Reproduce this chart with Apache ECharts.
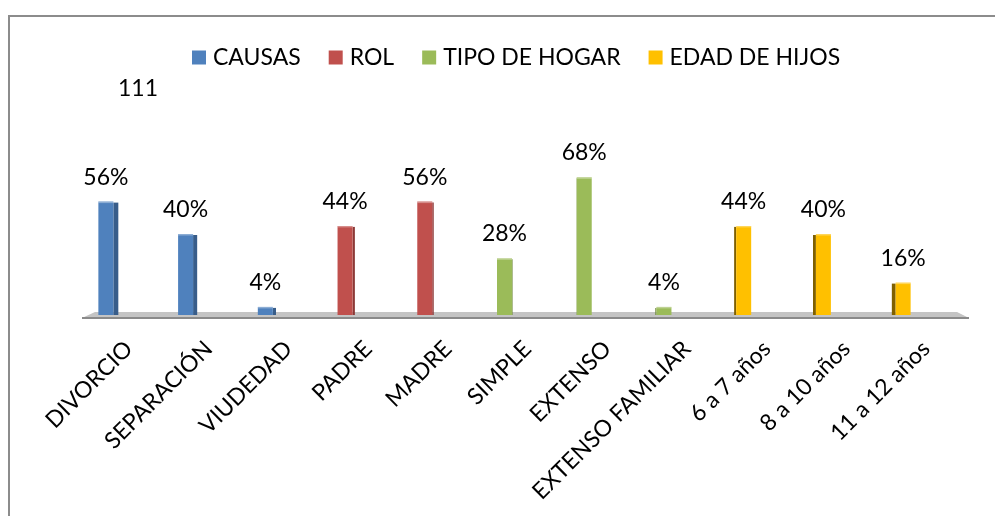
<!DOCTYPE html>
<html>
<head>
<meta charset="utf-8">
<script src="https://cdn.jsdelivr.net/npm/echarts@6/dist/echarts.min.js"></script>
<style>
  html, body { margin: 0; padding: 0; background: #fff; }
  #chart { width: 995px; height: 516px; }
</style>
</head>
<body>
<div id="chart"></div>
<script>
const categories = ['DIVORCIO', 'SEPARACIÓN', 'VIUDEDAD', 'PADRE', 'MADRE', 'SIMPLE',
  'EXTENSO', 'EXTENSO FAMILIAR', '6 a 7 años', '8 a 10 años', '11 a 12 años'];

// one value per category, null where the group has no bar
const causas     = [56, 40, 4, null, null, null, null, null, null, null, null];
const rol        = [null, null, null, 44, 56, null, null, null, null, null, null];
const tipoHogar  = [null, null, null, null, null, 28, 68, 4, null, null, null];
const edadHijos  = [null, null, null, null, null, null, null, null, 44, 40, 16];

const groups = [
  {name: 'CAUSAS', values: causas, front: '#4F81BD', side: '#385D8A'},
  {name: 'ROL', values: rol, front: '#C0504D', side: '#8C3836'},
  {name: 'TIPO DE HOGAR', values: tipoHogar, front: '#9BBB59', side: '#71893F'},
  {name: 'EDAD DE HIJOS', values: edadHijos, front: '#FFC000', side: '#7F6000'}
];

const FONT = 'Lato';

// fake 3d column: front face + shaded side, side shrinks near the vanishing point
function barRenderer(g) {
  return function (params, api) {
    const idx = api.value(0), v = api.value(1);
    const top = api.coord([idx, v]);
    const base = api.coord([idx, 0]);
    const cs = params.coordSys;
    const w = 15;
    const cx = top[0];
    const vp = cs.x + cs.width * 0.56;
    const side = Math.min(5, Math.abs(cx - vp) * 0.011);
    const h = base[1] - top[1];
    const sideX = cx < vp ? cx + w / 2 : cx - w / 2 - side;
    return {
      type: 'group',
      children: [
        {type: 'rect', shape: {x: sideX, y: top[1] + 1, width: side, height: h - 1},
          style: {fill: g.side}},
        {type: 'rect', shape: {x: cx - w / 2, y: top[1], width: w, height: h},
          style: {fill: g.front}},
        {type: 'rect', shape: {x: cx - w / 2, y: top[1], width: w, height: 1.5},
          style: {fill: '#fff', opacity: 0.35}},
        {type: 'text', style: {text: v + '%', x: cx, y: top[1] - 13,
          align: 'center', verticalAlign: 'bottom',
          font: '23px ' + FONT, fill: '#000'}}
      ]
    };
  };
}

function floorRenderer(params, api) {
  const cs = params.coordSys;
  const y0 = api.coord([0, 0])[1];
  const l = cs.x, r = cs.x + cs.width;
  return {
    type: 'group',
    children: [
      {type: 'polygon', shape: {points: [[l + 29, y0 - 3], [r + 14, y0 - 3], [r + 26, y0 + 3], [l + 16, y0 + 3]]},
        style: {fill: '#C4C4C4'}},
      {type: 'polygon', shape: {points: [[l + 16, y0 + 2], [r + 26, y0 + 2], [r + 26, y0 + 4], [l + 16, y0 + 4]]},
        style: {fill: '#8A8A8A'}}
    ]
  };
}

const series = [{
  type: 'custom',
  name: 'floor',
  xAxisIndex: 0, yAxisIndex: 0,
  data: [[0, 0]],
  silent: true,
  z: 1,
  renderItem: floorRenderer
}];

groups.forEach(g => {
  const data = [];
  g.values.forEach((v, i) => { if (v != null) data.push([i, v]); });
  series.push({
    type: 'custom',
    name: g.name,
    xAxisIndex: 0, yAxisIndex: 0,
    itemStyle: {color: g.front},
    data: data,
    z: 2,
    renderItem: barRenderer(g)
  });
});

const chart = echarts.init(document.getElementById('chart'));
chart.setOption({
  backgroundColor: '#fff',
  animation: false,
  title: {
    text: '111', left: 113, top: 72,
    textStyle: {fontFamily: FONT, fontSize: 23, fontWeight: 'normal', color: '#000'}
  },
  legend: {
    data: groups.map(g => g.name),
    left: 187, top: 41,
    icon: 'rect', itemWidth: 14, itemHeight: 14, itemGap: 28,
    textStyle: {fontFamily: FONT, fontSize: 23, color: '#000', padding: [0, 0, 0, 2]}
  },
  grid: [
    {left: 66, right: 52, top: 153, bottom: 201},
    {left: 89, right: 29, top: 153, bottom: 201}
  ],
  xAxis: [
    {type: 'category', gridIndex: 0, data: categories,
      axisLine: {show: false}, axisTick: {show: false}, axisLabel: {show: false}},
    {type: 'category', gridIndex: 1, data: categories,
      axisLine: {show: false}, axisTick: {show: false},
      axisLabel: {interval: 0, rotate: 45, margin: 30, color: '#000',
        fontFamily: FONT, fontSize: 23}}
  ],
  yAxis: [
    {type: 'value', gridIndex: 0, min: 0, max: 80, show: false},
    {type: 'value', gridIndex: 1, min: 0, max: 80, show: false}
  ],
  graphic: [{
    type: 'rect', silent: true, z: 100,
    shape: {x: 9, y: 16, width: 1000, height: 600},
    style: {fill: 'none', stroke: '#8C8C8C', lineWidth: 2}
  }],
  series: series
});
</script>
</body>
</html>
